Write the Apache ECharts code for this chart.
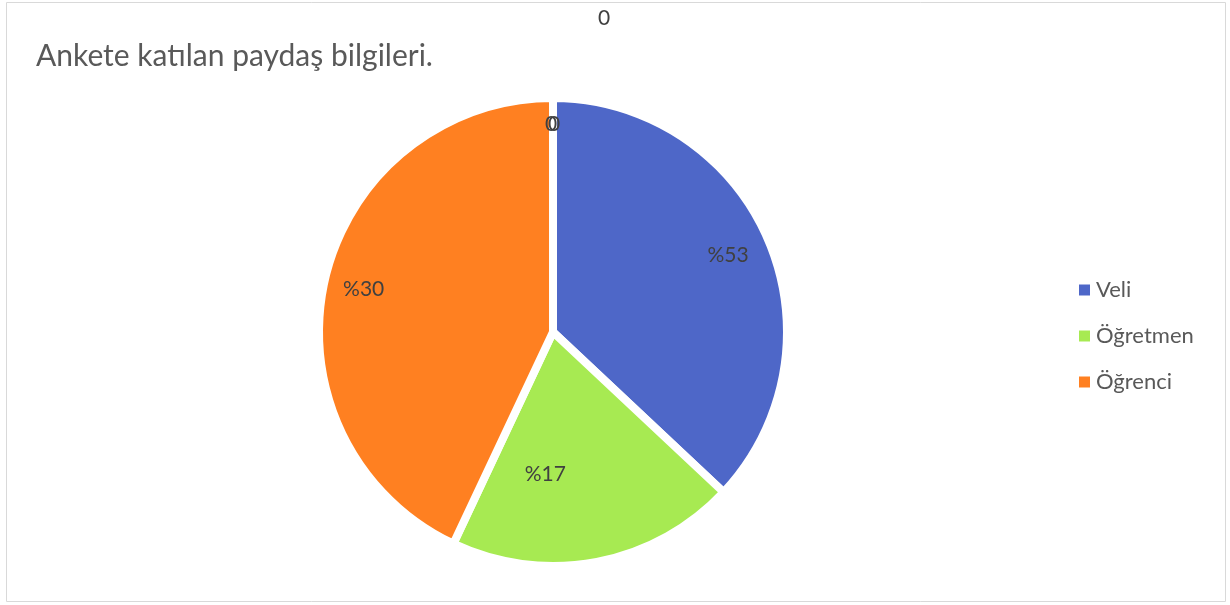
<!DOCTYPE html>
<html>
<head>
<meta charset="utf-8">
<title>Ankete katılan paydaş bilgileri</title>
<script src="https://cdn.jsdelivr.net/npm/echarts@6/dist/echarts.min.js"></script>
<style>
    html,body{margin:0;padding:0;background:#fff;}
    #chart{width:1230px;height:605px;}
</style>
</head>
<body>
<div id="chart"></div>
<script>
// kategoriler (son üçü sıfır değerli, sadece "0" etiketi görünüyor)
var categories = ['Veli', 'Öğretmen', 'Öğrenci', 'Boş 1', 'Boş 2', 'Boş 3'];
// dilim büyüklükleri (resimden okunan açılar)
var shares = [37, 20, 43, 0, 0, 0];
// dilimlerin üzerinde yazan etiketler
var labelTexts = ['%53', '%17', '%30', '0', '0', '0'];
var legendNames = ['Veli', 'Öğretmen', 'Öğrenci'];
var colors = ['#4E67C8', '#A7EA52', '#FF8021', '#4E67C8', '#4E67C8', '#4E67C8'];

// etiketlerin elle kaydırılması (Excel'de taşınmış etiketler)
var labelShift = [[-3, 0], [-44, -48], [0, 0], [-2, -14], [1, -14], [51, -120]];

var font = 'Lato, "Open Sans", sans-serif';

var chart = echarts.init(document.getElementById('chart'));

var pieData = categories.map(function (name, i) {
    return {name: name, value: shares[i], itemStyle: {color: colors[i]}};
});
var labelData = categories.map(function (name, i) {
    return {name: name, value: shares[i], label: {formatter: labelTexts[i]}};
});

chart.setOption({
    animation: false,
    title: {
        text: 'Ankete katılan paydaş bilgileri.',
        left: 31,
        top: 36,
        textStyle: {fontFamily: font, fontSize: 30, fontWeight: 'normal', color: '#595959'}
    },
    legend: {
        data: legendNames,
        orient: 'vertical',
        left: 1072,
        top: 274,
        icon: 'rect',
        itemWidth: 13,
        itemHeight: 13,
        itemGap: 24,
        textStyle: {fontFamily: font, fontSize: 22, color: '#595959'}
    },
    graphic: [{
        type: 'rect',
        silent: true,
        shape: {x: 6.5, y: 2.5, width: 1219, height: 599},
        style: {fill: 'none', stroke: '#D9D9D9', lineWidth: 1}
    }],
    series: [
        {
            name: 'paydaş',
            type: 'pie',
            center: [553, 332],
            radius: [0, 234],
            startAngle: 90,
            clockwise: true,
            itemStyle: {borderColor: '#fff', borderWidth: 8},
            label: {show: false},
            labelLine: {show: false},
            emphasis: {disabled: true},
            data: pieData
        },
        {
            // sadece etiketler için görünmez halka
            name: 'etiket',
            type: 'pie',
            center: [553, 332],
            radius: [152, 230],
            startAngle: 90,
            clockwise: true,
            silent: true,
            itemStyle: {color: 'transparent'},
            label: {
                show: true,
                position: 'inside',
                fontFamily: font,
                fontSize: 21,
                color: '#404040'
            },
            labelLine: {show: false},
            labelLayout: function (params) {
                var s = labelShift[params.dataIndex];
                return {dx: s[0], dy: s[1]};
            },
            emphasis: {disabled: true},
            data: labelData
        }
    ]
});
</script>
</body>
</html>
